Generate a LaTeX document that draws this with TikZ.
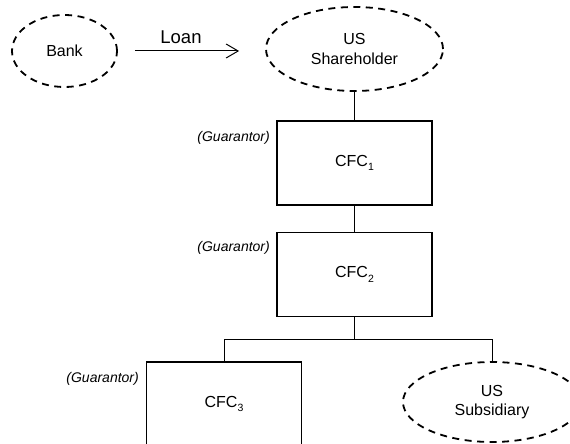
\documentclass[tikz,border=0pt]{standalone}
\usepackage{fontspec}
\setmainfont{Liberation Sans}
\usetikzlibrary{shapes.geometric,arrows.meta}
\newcommand{\mysub}[1]{\raisebox{-0.3em}{\fontsize{10.5bp}{12bp}\selectfont #1}}
\begin{document}
\begin{tikzpicture}[x=1bp,y=-1bp,
  every node/.style={font=\fontsize{16bp}{19.2bp}\selectfont, inner sep=0pt},
  oval/.style={ellipse, draw, line width=1.8bp, dash pattern=on 7bp off 5.5bp, align=center},
  cfcbox/.style={rectangle, draw, line width=1.8bp, minimum width=155bp, minimum height=84bp},
  guar/.style={anchor=east, font=\fontsize{14bp}{16bp}\selectfont\itshape},
  conn/.style={line width=1bp},
  loanlbl/.style={font=\fontsize{18.5bp}{22bp}\selectfont}
]
\useasboundingbox (0,0) rectangle (570,444);
\node[oval, minimum width=105bp, minimum height=72bp] (bank) at (64.5,51) {Bank};
\node[oval, minimum width=177bp, minimum height=84bp] (sh) at (354.5,49) {US\\Shareholder};
\node[cfcbox] (cfc1) at (354.5,163) {CFC\mysub{1}};
\node[cfcbox] (cfc2) at (354.5,274.5) {CFC\mysub{2}};
\node[cfcbox] (cfc3) at (224,404) {CFC\mysub{3}};
\node[oval, minimum width=178bp, minimum height=80bp] (sub) at (492,402) {US\\Subsidiary};
\node[guar] (g1) at (270,138) {(Guarantor)};
\node[guar] (g2) at (270,248) {(Guarantor)};
\node[guar] (g3) at (139,379) {(Guarantor)};
\draw[conn, -{Straight Barb[length=12bp,width=14bp]}, shorten <=17bp, shorten >=26bp] (bank.east) -- (sh.west |- bank.east);
\node[loanlbl] (loan) at (181,37) {Loan};
\coordinate (j) at (354.5,339);
\draw[conn] (sh.south) -- (cfc1.north);
\draw[conn] (cfc1.south) -- (cfc2.north);
\draw[conn] (cfc2.south) -- (j);
\draw[conn] (j) -| (cfc3.north);
\draw[conn] (j) -| (sub.north);
\end{tikzpicture}
\end{document}
